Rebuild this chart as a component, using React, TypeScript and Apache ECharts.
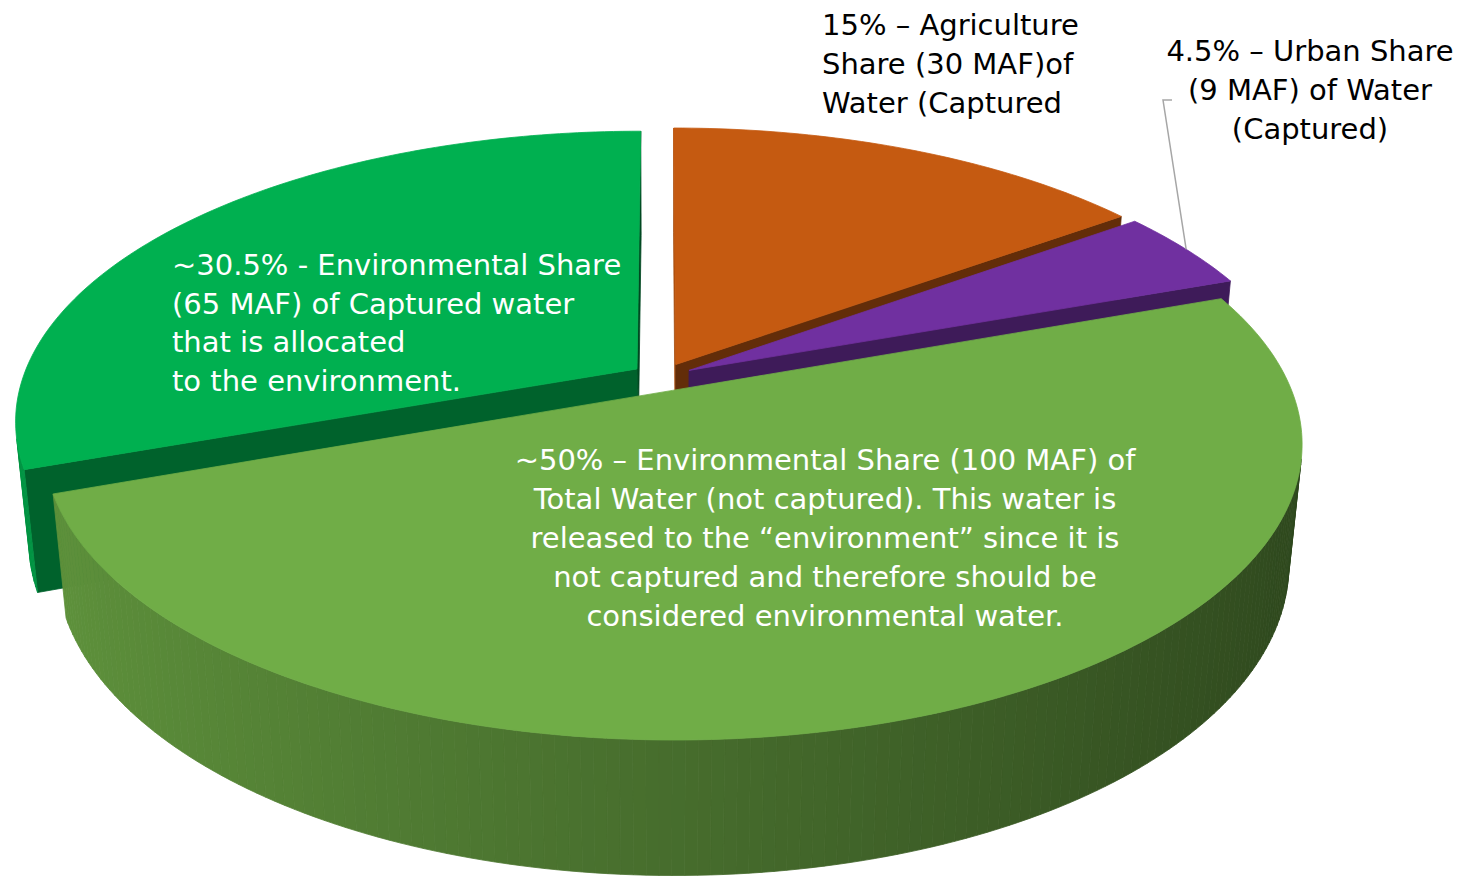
import React, { useEffect, useRef } from "react";
import * as echarts from "echarts";

// ---- data ----
const sliceNames = [
  "Agriculture share (captured)",
  "Urban share (captured)",
  "Environmental share (not captured)",
  "Environmental share (captured)",
];
const sliceValues = [15, 4.5, 50, 30.5];
const sliceColors = ["#C55A11", "#7030A0", "#70AD47", "#00B050"];
const sliceExplode = [0.05, 0.05, 0.05, 0.05];

const agricultureLabel = ["15% – Agriculture", "Share (30 MAF)of", "Water (Captured"];
const urbanLabel = ["4.5% – Urban Share", "(9 MAF) of Water", "(Captured)"];
const capturedEnvLabel = [
  "~30.5% - Environmental Share",
  "(65 MAF) of Captured water",
  "that is allocated",
  "to the environment.",
];
const uncapturedEnvLabel = [
  "~50% – Environmental Share (100 MAF) of",
  "Total Water (not captured). This water is",
  "released to the “environment” since it is",
  "not captured and therefore should be",
  "considered environmental water.",
];

// ---- view / style ----
const W = 1461;
const H = 878;
const FONT = "'DejaVu Sans', sans-serif";
const FONT_SIZE = 29;
const view = { cx: 662, cy: 377, scale: 614, k: 0.177, sinA: 0.46, thick: 0.221, startDeg: 0 };

const rad = (d: number) => (d * Math.PI) / 180;

function shade(hex: string, f: number) {
  const n = parseInt(hex.slice(1), 16);
  const r = Math.min(255, Math.round(((n >> 16) & 255) * f));
  const g = Math.min(255, Math.round(((n >> 8) & 255) * f));
  const b = Math.min(255, Math.round((n & 255) * f));
  return `rgb(${r},${g},${b})`;
}
const light = (deg: number) => 0.63 - 0.22 * Math.sin(rad(deg));

type Face = { slice: number; pts: number[][]; color: string; depth: number; z2: number };

function buildGeometry() {
  const cosA = Math.sqrt(1 - view.sinA * view.sinA);
  const D = cosA / view.k;
  const F = view.scale * D;
  const cam = [0, D * view.sinA, -D * cosA];
  const project = (p: number[]) => {
    const v = p[1] * cosA + p[2] * view.sinA;
    const w = D - p[1] * view.sinA + p[2] * cosA;
    return [view.cx + (F * p[0]) / w, view.cy - (F * v) / w];
  };
  const depthOf = (p: number[]) => D - p[1] * view.sinA + p[2] * cosA;
  const facing = (nx: number, nz: number, p: number[]) =>
    (cam[0] - p[0]) * nx + (cam[2] - p[2]) * nz > 0;

  const total = sliceValues.reduce((a, b) => a + b, 0);
  const T = view.thick;
  const walls: Face[] = [];
  const tops: Face[] = [];
  const midRim: number[][] = [];
  let acc = 0;
  sliceValues.forEach((val, i) => {
    const a0 = view.startDeg + (acc / total) * 360;
    acc += val;
    const a1 = view.startDeg + (acc / total) * 360;
    const mid = rad((a0 + a1) / 2);
    const ox = sliceExplode[i] * Math.sin(mid);
    const oz = sliceExplode[i] * Math.cos(mid);
    const rim = (deg: number, y: number) => [ox + Math.sin(rad(deg)), y, oz + Math.cos(rad(deg))];
    const center = (y: number) => [ox, y, oz];
    midRim.push(project(rim((a0 + a1) / 2, 0)));
    const n = Math.max(2, Math.ceil(a1 - a0));
    const top = [project(center(0))];
    for (let j = 0; j <= n; j++) top.push(project(rim(a0 + ((a1 - a0) * j) / n, 0)));
    tops.push({ slice: i, pts: top, color: sliceColors[i], depth: 0, z2: 5000 + i });
    for (let j = 0; j < n; j++) {
      const t0 = a0 + ((a1 - a0) * j) / n;
      const t1 = a0 + ((a1 - a0) * (j + 1)) / n;
      const tm = (t0 + t1) / 2;
      const pm = rim(tm, -T / 2);
      if (!facing(Math.sin(rad(tm)), Math.cos(rad(tm)), pm)) continue;
      walls.push({
        slice: i,
        pts: [project(rim(t0, 0)), project(rim(t1, 0)), project(rim(t1, -T)), project(rim(t0, -T))],
        color: shade(sliceColors[i], light(tm)),
        depth: depthOf(pm),
        z2: 0,
      });
    }
    [
      [a0, a0 - 90],
      [a1, a1 + 90],
    ].forEach(([a, nd]) => {
      const pm = [ox + 0.5 * Math.sin(rad(a)), -T / 2, oz + 0.5 * Math.cos(rad(a))];
      if (!facing(Math.sin(rad(nd)), Math.cos(rad(nd)), pm)) return;
      walls.push({
        slice: i,
        pts: [project(center(0)), project(rim(a, 0)), project(rim(a, -T)), project(center(-T))],
        color: shade(sliceColors[i], light(nd)),
        depth: depthOf(pm),
        z2: 0,
      });
    });
  });
  walls.sort((a, b) => b.depth - a.depth);
  walls.forEach((f, idx) => (f.z2 = idx + 1));
  return { faces: [...walls, ...tops], midRim };
}

function textLines(lines: string[], x: number, y0: number, step: number, align: string, color: string) {
  return lines.map((t, j) => ({
    type: "text",
    x,
    y: y0 + j * step,
    z: 100,
    silent: true,
    style: {
      text: t,
      fill: color,
      font: `${FONT_SIZE}px ${FONT}`,
      textAlign: align,
      textVerticalAlign: "middle",
      align,
      verticalAlign: "middle",
    },
  }));
}

export default function App() {
  const ref = useRef<HTMLDivElement>(null);
  useEffect(() => {
    if (!ref.current) return;
    const chart = echarts.init(ref.current, undefined, { renderer: "svg" });
    const { faces, midRim } = buildGeometry();
    const urbanTip = midRim[1];
    const option: any = {
      animation: false,
      backgroundColor: "#ffffff",
      series: [
        {
          type: "custom",
          coordinateSystem: "none",
          data: sliceValues.map((v, i) => ({ name: sliceNames[i], value: v })),
          renderItem: (params: any) => {
            const i = params.dataIndex;
            return {
              type: "group",
              children: faces
                .filter((f) => f.slice === i)
                .map((f) => ({
                  type: "polygon",
                  z2: f.z2,
                  silent: true,
                  shape: { points: f.pts },
                  style: { fill: f.color, stroke: f.color, lineWidth: 0.8 },
                })),
            };
          },
        },
      ],
      graphic: [
        {
          type: "polyline",
          z: 100,
          silent: true,
          shape: { points: [[1172, 100], [1163, 100], urbanTip] },
          style: { stroke: "#A6A6A6", lineWidth: 1.5, fill: "none" },
        },
        ...textLines(agricultureLabel, 822, 25, 39, "left", "#000000"),
        ...textLines(urbanLabel, 1310, 51, 39, "center", "#000000"),
        ...textLines(capturedEnvLabel, 172, 265, 38.5, "left", "#ffffff"),
        ...textLines(uncapturedEnvLabel, 825, 460, 39, "center", "#ffffff"),
      ],
    };
    chart.setOption(option);
    return () => chart.dispose();
  }, []);
  return (
    <div
      ref={ref}
      style={{ position: "fixed", left: 0, top: 0, width: W, height: H, background: "#fff" }}
    />
  );
}
